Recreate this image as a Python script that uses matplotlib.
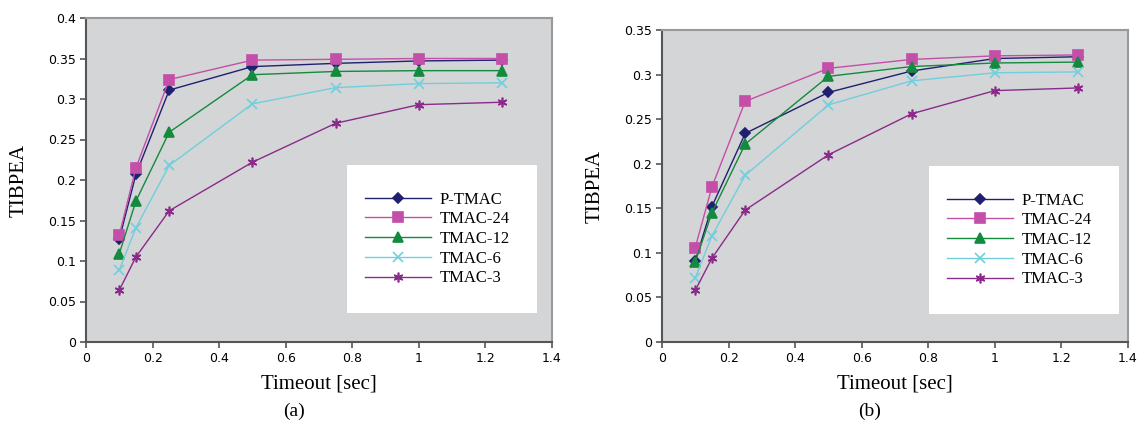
import numpy as np
import matplotlib.pyplot as plt
from matplotlib.patches import Rectangle

timeout = [0.1, 0.15, 0.25, 0.5, 0.75, 1.0, 1.25]
series_names = ["P-TMAC", "TMAC-24", "TMAC-12", "TMAC-6", "TMAC-3"]

# (a)
a_ptmac = [0.127, 0.207, 0.311, 0.340, 0.344, 0.347, 0.348]
a_tmac24 = [0.132, 0.215, 0.324, 0.348, 0.349, 0.350, 0.350]
a_tmac12 = [0.109, 0.174, 0.259, 0.330, 0.334, 0.335, 0.335]
a_tmac6 = [0.089, 0.141, 0.218, 0.294, 0.314, 0.319, 0.320]
a_tmac3 = [0.064, 0.105, 0.162, 0.222, 0.270, 0.293, 0.296]

# (b)
b_ptmac = [0.091, 0.152, 0.234, 0.280, 0.304, 0.318, 0.320]
b_tmac24 = [0.106, 0.174, 0.270, 0.307, 0.317, 0.321, 0.322]
b_tmac12 = [0.090, 0.145, 0.222, 0.298, 0.309, 0.313, 0.314]
b_tmac6 = [0.072, 0.119, 0.187, 0.266, 0.293, 0.302, 0.303]
b_tmac3 = [0.058, 0.094, 0.148, 0.210, 0.256, 0.282, 0.285]

colors = ["#1f2070", "#c44fa8", "#138a3e", "#6fcfdc", "#8a2a8a"]
markers = ["D", "s", "^", "x", (6, 2, 0)]
msizes = [5, 6.5, 6.5, 7, 7]

serif = "Liberation Serif"

fig = plt.figure(figsize=(11.38, 4.24), dpi=100)
W, H = 1138, 424

panels = [
    dict(rect=(86, 18, 552, 342), data=[a_ptmac, a_tmac24, a_tmac12, a_tmac6, a_tmac3],
         ymax=0.4, leg=(347, 165, 537, 313), tag="(a)"),
    dict(rect=(662, 30, 1128, 342), data=[b_ptmac, b_tmac24, b_tmac12, b_tmac6, b_tmac3],
         ymax=0.35, leg=(929, 166, 1119, 314), tag="(b)"),
]

for p in panels:
    x0, y0, x1, y1 = p["rect"]
    ax = fig.add_axes([x0 / W, 1 - y1 / H, (x1 - x0) / W, (y1 - y0) / H])
    ax.set_facecolor("#d4d5d7")
    for name, vals, c, m, ms in zip(series_names, p["data"], colors, markers, msizes):
        ax.plot(timeout, vals, color=c, lw=1.0, marker=m, ms=ms,
                mfc=c, mec=c, mew=1.2, label=name)
    ax.set_xlim(0, 1.4)
    ax.set_ylim(0, p["ymax"])
    ax.set_xticks(np.arange(0, 1.41, 0.2))
    ax.set_xticklabels(["0", "0.2", "0.4", "0.6", "0.8", "1", "1.2", "1.4"])
    yt = np.arange(0, p["ymax"] + 0.001, 0.05)
    ax.set_yticks(yt)
    ax.set_yticklabels(["0"] + [f"{v:g}" for v in yt[1:]])
    ax.tick_params(labelsize=9, length=4, width=1.2, color="#555555", pad=3)
    for s in ["left", "bottom"]:
        ax.spines[s].set_color("#555555")
        ax.spines[s].set_linewidth(1.5)
    for s in ["top", "right"]:
        ax.spines[s].set_color("#999999")
        ax.spines[s].set_linewidth(1.5)
    ax.set_xlabel("Timeout [sec]", family=serif, fontsize=15, labelpad=7)
    ax.set_ylabel("TIBPEA", family=serif, fontsize=15, labelpad=14)

    # legend box
    lx0, ly0, lx1, ly1 = p["leg"]
    bx0 = (lx0 - x0) / (x1 - x0)
    bx1 = (lx1 - x0) / (x1 - x0)
    by0 = (y1 - ly1) / (y1 - y0)
    by1 = (y1 - ly0) / (y1 - y0)
    ax.add_patch(Rectangle((bx0, by0), bx1 - bx0, by1 - by0, transform=ax.transAxes,
                           facecolor="white", edgecolor="none", zorder=5))
    leg = ax.legend(loc="center", bbox_to_anchor=((bx0 + bx1) / 2 - 0.01, (by0 + by1) / 2),
                    frameon=False, prop={"family": serif, "size": 12},
                    handlelength=4.0, handletextpad=0.5, labelspacing=0.22)
    leg.set_zorder(6)

    fig.text(((x0 + x1) / 2 - 25) / W, 1 - 411 / H, p["tag"], family=serif,
             fontsize=14, ha="center", va="center")

fig.savefig("out.png", dpi=100)
